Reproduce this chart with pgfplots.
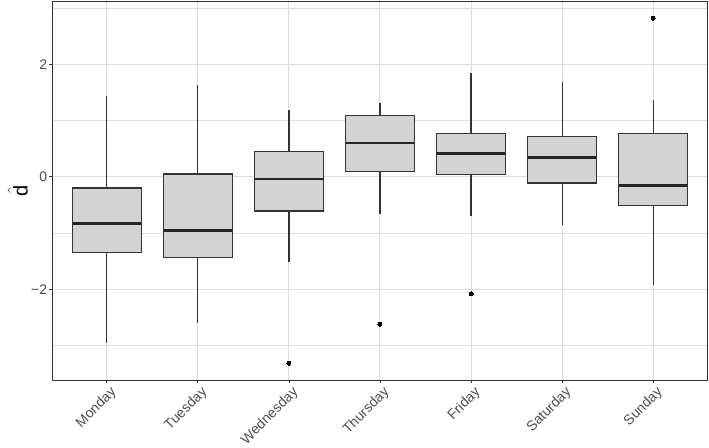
\documentclass[border=0pt]{standalone}
\usepackage{pgfplots}
\pgfplotsset{compat=1.18}
\usepgfplotslibrary{statistics}
\usepackage{fontspec}
\setmainfont{Liberation Sans}
\definecolor{gridc}{RGB}{222,222,222}
\definecolor{boxfill}{RGB}{211,211,211}
\definecolor{boxline}{RGB}{51,51,51}
\definecolor{tickc}{RGB}{77,77,77}
\pgfplotsset{
  bx/.style={fill=boxfill, draw=boxline, line width=1.1pt, mark=none},
  outl/.style={only marks, mark=*, mark size=2pt, mark options={fill=black, draw=black, line width=0pt}},
}
\begin{document}
\begin{tikzpicture}
\useasboundingbox (0,0) rectangle (709pt,447pt);
\begin{axis}[
  at={(52.3pt,67pt)}, anchor=south west,
  scale only axis, width=655.4pt, height=378pt,
  xmin=0.4, xmax=7.6, ymin=-3.61, ymax=3.11,
  xtick={1,2,3,4,5,6,7},
  xticklabels={Monday,Tuesday,Wednesday,Thursday,Friday,Saturday,Sunday},
  ytick={-2,0,2}, yticklabels={−2,0,2},
  minor ytick={-3,-1,1,3},
  grid=both,
  major grid style={gridc, line width=1pt},
  minor grid style={gridc, line width=0.9pt},
  tick align=outside, tick pos=left,
  major tick length=3pt, minor tick length=0pt,
  every tick/.style={boxline, line width=0.9pt},
  axis line style={boxline, line width=1pt},
  ticklabel style={font=\fontsize{14}{16}\selectfont, text=tickc},
  xticklabel style={rotate=45, anchor=north east, inner sep=0pt, yshift=-3.5pt},
  yticklabel style={inner sep=0pt, xshift=-2pt},
  ylabel={$\hat{\mbox{d}}$},
  ylabel style={font=\fontsize{20}{22}\selectfont, text=black, inner sep=3pt},
  boxplot/draw direction=y,
  boxplot/whisker extend=0,
  boxplot/box extend=0.75,
  boxplot/every median/.style={black!85, line width=2.4pt},
]
\addplot[bx, boxplot prepared={draw position=1, lower whisker=-2.95, lower quartile=-1.34,
  median=-0.83, upper quartile=-0.196, upper whisker=1.43}] coordinates {};
\addplot[bx, boxplot prepared={draw position=2, lower whisker=-2.60, lower quartile=-1.44,
  median=-0.955, upper quartile=0.053, upper whisker=1.64}] coordinates {};
\addplot[bx, boxplot prepared={draw position=3, lower whisker=-1.51, lower quartile=-0.605,
  median=-0.04, upper quartile=0.46, upper whisker=1.185}] coordinates {};
\addplot[bx, boxplot prepared={draw position=4, lower whisker=-0.66, lower quartile=0.094,
  median=0.60, upper quartile=1.10, upper whisker=1.32}] coordinates {};
\addplot[bx, boxplot prepared={draw position=5, lower whisker=-0.69, lower quartile=0.04,
  median=0.415, upper quartile=0.77, upper whisker=1.84}] coordinates {};
\addplot[bx, boxplot prepared={draw position=6, lower whisker=-0.86, lower quartile=-0.107,
  median=0.343, upper quartile=0.72, upper whisker=1.69}] coordinates {};
\addplot[bx, boxplot prepared={draw position=7, lower whisker=-1.92, lower quartile=-0.50,
  median=-0.15, upper quartile=0.77, upper whisker=1.36}] coordinates {};
% outliers
\addplot[outl] coordinates {(3,-3.31) (4,-2.62) (5,-2.08) (7,2.82)};
\end{axis}
\end{tikzpicture}
\end{document}
